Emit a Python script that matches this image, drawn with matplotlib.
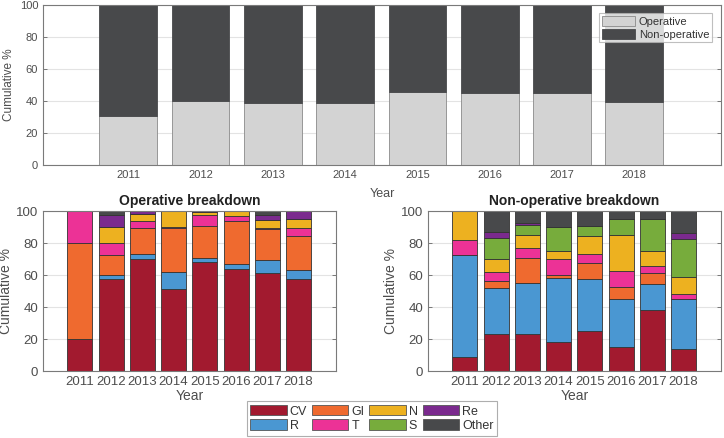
import numpy as np
import matplotlib

matplotlib.use("Agg")
import matplotlib.pyplot as plt
from matplotlib.patches import Patch

plt.rcParams["font.family"] = ["Liberation Sans", "DejaVu Sans"]

years = [2011, 2012, 2013, 2014, 2015, 2016, 2017, 2018]

# overall split (%)
operative = [30.9, 39.7, 38.6, 39.0, 45.7, 44.9, 44.7, 39.2]
non_operative = [100 - v for v in operative]

categories = ["CV", "R", "GI", "T", "N", "S", "Re", "Other"]

# operative breakdown (%), one list per category
op_cv = [20.0, 57.6, 70.1, 51.4, 68.1, 63.9, 61.0, 57.8]
op_r = [0.0, 2.3, 3.2, 10.2, 2.5, 2.9, 8.3, 5.5]
op_gi = [60.0, 12.5, 16.1, 27.8, 20.0, 26.9, 19.4, 21.0]
op_t = [20.0, 7.6, 4.5, 0.6, 6.9, 3.4, 0.5, 5.3]
op_n = [0.0, 9.8, 4.4, 10.0, 2.0, 2.9, 5.2, 5.2]
op_s = [0.0, 0.0, 0.0, 0.0, 0.0, 0.0, 0.0, 0.0]
op_re = [0.0, 7.7, 1.7, 0.0, 0.5, 0.0, 3.1, 5.2]
op_other = [0.0, 2.5, 0.0, 0.0, 0.0, 0.0, 2.5, 0.0]

# non-operative breakdown (%)
no_cv = [9.0, 23.4, 23.0, 18.2, 24.8, 14.8, 38.4, 13.6]
no_r = [63.4, 28.2, 32.1, 40.0, 32.6, 30.1, 15.9, 31.3]
no_gi = [0.0, 4.8, 15.3, 1.5, 9.8, 7.5, 6.9, 0.0]
no_t = [9.4, 5.2, 6.6, 10.2, 6.1, 10.0, 4.6, 3.3]
no_n = [18.2, 8.3, 7.8, 5.0, 11.0, 22.6, 9.1, 10.5]
no_s = [0.0, 13.4, 6.4, 14.9, 6.1, 9.8, 20.3, 23.8]
no_re = [0.0, 3.5, 1.5, 0.0, 0.0, 0.0, 0.0, 3.7]
no_other = [0.0, 13.2, 7.3, 10.2, 9.6, 5.2, 4.8, 13.8]

colors = {
    "CV": "#A21A2F",
    "R": "#4A97D2",
    "GI": "#EF6A2F",
    "T": "#EC3296",
    "N": "#EDB120",
    "S": "#77AC3C",
    "Re": "#7B2A8E",
    "Other": "#48494B",
}

txt = "#4d4d4d"
edge = "#333333"
grid_c = "#e3e3e3"


def style_axes(ax, fs):
    ax.set_xlim(2009.82, 2019.2)
    ax.set_ylim(0, 100)
    ax.set_xticks(years)
    ax.set_yticks([0, 20, 40, 60, 80, 100])
    ax.tick_params(direction="in", length=3, colors="#666666", labelcolor=txt,
                   labelsize=fs, top=False, right=True, width=0.6)
    ax.yaxis.grid(True, color=grid_c, lw=0.8)
    ax.set_axisbelow(True)
    for s in ax.spines.values():
        s.set_color("#7a7a7a")
        s.set_linewidth(0.8)


fig = plt.figure(figsize=(7.24, 4.38), dpi=100)

# top: operative vs non-operative
ax0 = fig.add_axes([43 / 724, 1 - 165 / 438, 678 / 724, 160 / 438])
ax0.bar(years, operative, width=0.8, color="#D3D3D3", edgecolor="#8a8a8a",
        lw=0.6, label="Operative")
ax0.bar(years, non_operative, width=0.8, bottom=operative, color="#48494B",
        edgecolor="#48494B", lw=0.6, label="Non-operative")
style_axes(ax0, 8)
ax0.set_ylabel("Cumulative %", fontsize=8.5, color=txt, labelpad=3)
ax0.set_xlabel("Year", fontsize=9, color=txt, labelpad=6)
lg = ax0.legend(loc="upper right", bbox_to_anchor=(0.9867, 0.95), fontsize=8,
                frameon=True, fancybox=False, edgecolor="#b0b0b0",
                handlelength=3.0, handleheight=1.1, handletextpad=0.3,
                borderpad=0.25, labelspacing=0.15, borderaxespad=0)
lg.get_frame().set_linewidth(0.8)
for t in lg.get_texts():
    t.set_color("#333333")

op_data = [op_cv, op_r, op_gi, op_t, op_n, op_s, op_re, op_other]
no_data = [no_cv, no_r, no_gi, no_t, no_n, no_s, no_re, no_other]

panels = [
    (43, "Operative breakdown", op_data),
    (428, "Non-operative breakdown", no_data),
]
for left, title, data in panels:
    ax = fig.add_axes([left / 724, 1 - 371 / 438, 293 / 724, 160 / 438])
    bottom = np.zeros(len(years))
    for cat, vals in zip(categories, data):
        vals = np.array(vals)
        ax.bar(years, vals, width=0.8, bottom=bottom, color=colors[cat],
               edgecolor=edge, lw=0.6)
        bottom += vals
    style_axes(ax, 9.5)
    ax.set_title(title, fontsize=10, fontweight="bold", color="#222222", pad=4)
    ax.set_ylabel("Cumulative %", fontsize=10, color=txt, labelpad=2)
    ax.set_xlabel("Year", fontsize=10, color=txt, labelpad=1)

# shared legend for the breakdowns (filled column by column)
handles = [Patch(facecolor=colors[c], edgecolor="#555555", lw=0.6) for c in categories]
fl = fig.legend(handles, categories, loc="center", bbox_to_anchor=(372 / 724, 1 - 418.5 / 438),
                ncol=4, fontsize=9, frameon=True, fancybox=False, edgecolor="#9a9a9a",
                handlelength=2.9, handleheight=0.9, handletextpad=0.25,
                columnspacing=0.4, borderpad=0.3, labelspacing=0.15)
fl.get_frame().set_linewidth(0.8)
for t in fl.get_texts():
    t.set_color("#333333")

fig.savefig("out.png", dpi=100)
plt.close(fig)
